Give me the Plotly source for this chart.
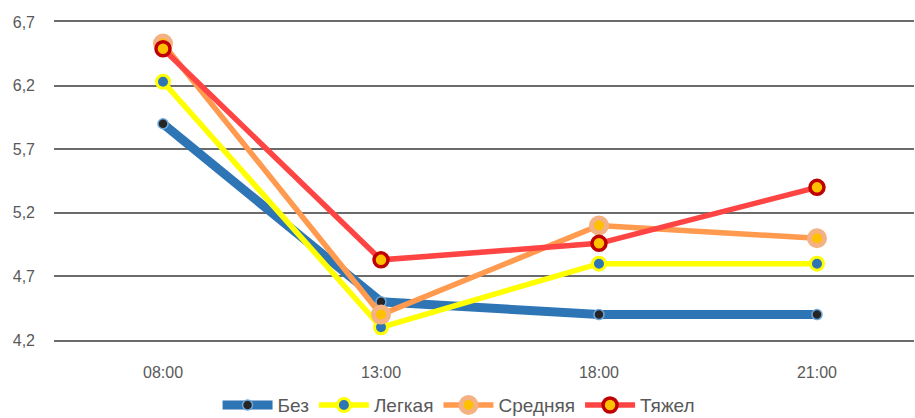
import plotly.graph_objects as go

# Time points on the category axis
times = ["08:00", "13:00", "18:00", "21:00"]

# Series values
bez = [5.90, 4.50, 4.40, 4.40]
legkaya = [6.23, 4.30, 4.80, 4.80]
srednyaya = [6.53, 4.40, 5.10, 5.00]
tyazhel = [6.49, 4.83, 4.96, 5.40]

# Y-axis ticks
y_ticks = [4.2, 4.7, 5.2, 5.7, 6.2, 6.7]

x_idx = list(range(len(times)))

series = [
    dict(name="Без", y=bez, line_color="#2e75b6", line_width=9,
         m_fill="#262626", m_line="#6fa8dc", m_size=10, m_lw=1.5),
    dict(name="Легкая", y=legkaya, line_color="#ffff00", line_width=5.5,
         m_fill="#2e75b6", m_line="#ffff00", m_size=13, m_lw=3),
    dict(name="Средняя", y=srednyaya, line_color="#ff9a4f", line_width=5.5,
         m_fill="#ffc000", m_line="#f4b183", m_size=15, m_lw=5),
    dict(name="Тяжел", y=tyazhel, line_color="#ff4444", line_width=5.5,
         m_fill="#ffc000", m_line="#c00000", m_size=14, m_lw=3.5),
]

fig = go.Figure()
for s in series:
    fig.add_trace(go.Scatter(
        x=x_idx, y=s["y"], name=s["name"], mode="lines+markers",
        line=dict(color=s["line_color"], width=s["line_width"]),
        marker=dict(color=s["m_fill"], size=s["m_size"],
                    line=dict(color=s["m_line"], width=s["m_lw"])),
        cliponaxis=False,
    ))

grid_color = "#6b6b6b"

fig.update_layout(
    width=915, height=418,
    margin=dict(l=54, r=1, t=22, b=78, autoexpand=False),
    paper_bgcolor="white", plot_bgcolor="white",
    separators=", ",
    font=dict(family="Liberation Sans, Arial, sans-serif", size=16, color="#595959"),
    showlegend=True,
    legend=dict(orientation="h", x=0.471, xanchor="center", y=-0.205, yanchor="middle",
                font=dict(size=19, color="#595959"), itemwidth=50,
                bgcolor="rgba(0,0,0,0)"),
)

# top and bottom borders act as the first and last horizontal gridlines
fig.update_xaxes(
    range=[-0.5, 3.445], tickvals=x_idx, ticktext=times,
    showgrid=False, zeroline=False,
    showline=True, mirror=True, linecolor=grid_color, linewidth=1.5,
    ticks="", ticklabelstandoff=17,
    tickfont=dict(size=16, color="#595959"),
)
fig.update_yaxes(
    range=[4.2, 6.7], tickvals=y_ticks, tickformat=".1f",
    showgrid=True, gridcolor=grid_color, gridwidth=1.5,
    zeroline=False, showline=False, ticks="",
    ticklabelstandoff=18,
    tickfont=dict(size=16, color="#595959"),
)

fig.write_html("out.html")
